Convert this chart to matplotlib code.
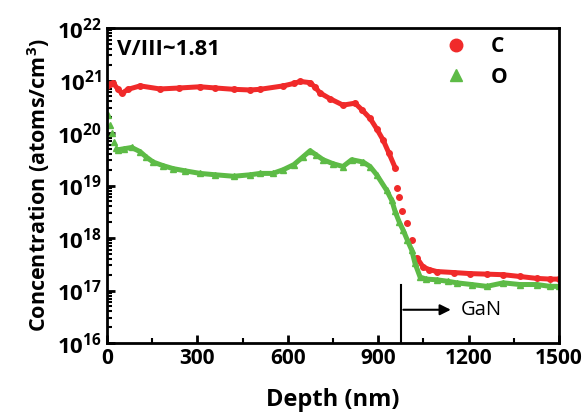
import matplotlib
matplotlib.use('Agg')
import matplotlib.pyplot as plt
import numpy as np
from matplotlib.ticker import LogLocator, NullFormatter, MultipleLocator

# SIMS depth profile
c_depth = [0, 10, 20, 35, 49, 70, 110, 176, 240, 309, 360, 420, 475, 508, 585, 620, 641, 674, 690, 707,
           740, 783, 823, 845, 873, 895, 916, 935, 956, 962, 970, 978, 995, 1011, 1028, 1049, 1070, 1094,
           1150, 1205, 1260, 1315, 1370, 1426, 1470, 1500]
c_conc = [8.0e20, 8.5e20, 9.0e20, 7e20, 5.7e20, 6.8e20, 7.9e20, 6.9e20, 7.2e20, 7.6e20, 7.2e20, 6.8e20,
          6.6e20, 6.8e20, 7.9e20, 8.8e20, 9.6e20, 9.1e20, 7.5e20, 5.8e20, 4.5e20, 3.4e20, 3.7e20, 2.8e20,
          1.9e20, 1.2e20, 7.4e19, 4.2e19, 2.2e19, 8.9e18, 6.0e18, 3.2e18, 1.9e18, 9.1e17, 4.2e17, 2.8e17,
          2.5e17, 2.3e17, 2.2e17, 2.1e17, 2.05e17, 2.0e17, 1.85e17, 1.7e17, 1.65e17, 1.65e17]

o_depth = [3, 10, 17, 24, 30, 37, 55, 82, 110, 130, 153, 185, 219, 260, 309, 360, 420, 475, 508, 550,
           585, 620, 650, 674, 695, 717, 750, 783, 812, 850, 873, 895, 928, 945, 956, 970, 983, 997, 1011,
           1022, 1039, 1060, 1094, 1130, 1161, 1210, 1260, 1315, 1370, 1426, 1470, 1500]
o_conc = [2.2e20, 1.4e20, 1.0e20, 6.8e19, 5.2e19, 4.8e19, 5.0e19, 5.3e19, 4.4e19, 3.5e19, 2.8e19, 2.4e19,
          2.1e19, 1.9e19, 1.7e19, 1.6e19, 1.5e19, 1.6e19, 1.7e19, 1.7e19, 2.0e19, 2.5e19, 3.5e19, 4.6e19,
          3.8e19, 3.1e19, 2.6e19, 2.3e19, 3.1e19, 2.8e19, 2.3e19, 1.6e19, 8.1e18, 5.2e18, 3.2e18, 2.0e18,
          1.4e18, 9e17, 5.9e17, 3.3e17, 1.8e17, 1.65e17, 1.6e17, 1.5e17, 1.4e17, 1.3e17, 1.2e17, 1.4e17,
          1.3e17, 1.3e17, 1.2e17, 1.2e17]

x_ticks = [0, 300, 600, 900, 1200, 1500]
y_ticks = [1e16, 1e17, 1e18, 1e19, 1e20, 1e21, 1e22]
y_ticklabels = ['$10^{16}$', '$10^{17}$', '$10^{18}$', '$10^{19}$', '$10^{20}$', '$10^{21}$', '$10^{22}$']
gan_edge = 974

red = '#f02a2a'
green = '#5dbb46'

plt.rcParams['font.family'] = ['Open Sans', 'DejaVu Sans']
plt.rcParams['mathtext.fontset'] = 'custom'
plt.rcParams['mathtext.rm'] = 'Open Sans:bold'
plt.rcParams['mathtext.it'] = 'Open Sans:bold'
plt.rcParams['mathtext.bf'] = 'Open Sans:bold'

fig = plt.figure(figsize=(5.86, 4.18), dpi=100)
ax = fig.add_axes([0.1826, 0.1794, 0.7714, 0.7536])

c_depth = np.array(c_depth)
c_conc = np.array(c_conc)
o_depth = np.array(o_depth)
o_conc = np.array(o_conc)

# dense parts look like a solid band, the steep part shows single points
m1 = c_depth <= 956
m2 = c_depth >= 1028
ax.plot(c_depth[m1], c_conc[m1], color=red, lw=3.6, solid_capstyle='round')
ax.plot(c_depth[m2], c_conc[m2], color=red, lw=3.6, solid_capstyle='round')
ax.plot(c_depth, c_conc, 'o', color=red, ms=4, label='C')

m3 = o_depth >= 37
ax.plot(o_depth[m3], o_conc[m3], color=green, lw=3.6, solid_capstyle='round')
ax.plot(o_depth, o_conc, '^', color=green, ms=5, label='O')

ax.set_yscale('log')
ax.set_xlim(0, 1500)
ax.set_ylim(1e16, 1e22)
ax.set_xticks(x_ticks)
ax.xaxis.set_minor_locator(MultipleLocator(150))
ax.set_yticks(y_ticks)
ax.set_yticklabels(y_ticklabels)
ax.yaxis.set_minor_locator(LogLocator(base=10, subs=np.arange(2, 10), numticks=20))
ax.yaxis.set_minor_formatter(NullFormatter())

ax.tick_params(which='major', direction='in', length=6, width=2, labelsize=15)
ax.tick_params(axis='y', which='major', labelsize=16)
ax.tick_params(which='minor', direction='in', length=3.5, width=1.5)
for lab in ax.get_xticklabels():
    lab.set_fontweight('bold')
for s in ax.spines.values():
    s.set_linewidth(2)

ax.set_xlabel('Depth (nm)', fontsize=17, fontweight='bold', labelpad=14)
ax.set_ylabel('Concentration (atoms/cm$^{3}$)', fontsize=15.5, fontweight='bold', labelpad=4)

ax.text(0.022, 0.965, 'V/III~1.81', transform=ax.transAxes, fontsize=16, fontweight='bold',
        ha='left', va='top')

leg = ax.legend(loc='upper right', frameon=False, fontsize=15, handletextpad=0.7,
                borderaxespad=0.0, labelspacing=0.45, bbox_to_anchor=(0.905, 1.0))
for t in leg.get_texts():
    t.set_fontweight('bold')
for h in leg.legend_handles:
    h.set_markersize(9)

# GaN interface marker
ax.plot([gan_edge, gan_edge], [1e16, 1.3e17], color='black', lw=1.5)
ax.annotate('', xy=(1150, 4.3e16), xytext=(gan_edge, 4.3e16),
            arrowprops=dict(arrowstyle='-|>', color='black', lw=1.5, mutation_scale=16))
ax.text(1175, 4.3e16, 'GaN', fontsize=14.5, fontweight='medium', va='center', ha='left')

fig.savefig('out.png', dpi=100)
